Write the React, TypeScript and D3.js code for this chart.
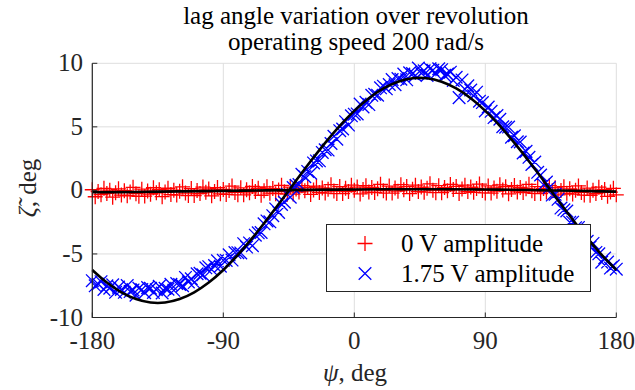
import React from "react";
import * as d3 from "d3";

// ---- data ----
const psiStep = 2;
const psiValues: number[] = d3.range(-180, 181, psiStep);

const redValues: number[] = [
  0.05, -0.5, -0.09, -0.34, 0.16, -0.24, 0.02, -0.53, -0.18, 0.12,
  -0.37, -0.02, -0.42, -0.12, 0.24, -0.26, -0.46, 0.1, -0.45, -0.05,
  -0.3, 0.21, -0.19, 0.06, -0.49, -0.13, 0.17, -0.33, 0.02, -0.37,
  -0.07, 0.28, -0.21, -0.41, 0.14, -0.4, 0.0, -0.25, 0.26, -0.14,
  0.11, -0.43, -0.08, 0.22, -0.27, 0.08, -0.32, -0.01, 0.34, -0.16,
  -0.35, 0.2, -0.35, 0.06, -0.19, 0.31, -0.08, 0.17, -0.38, -0.02,
  0.28, -0.22, 0.14, -0.26, 0.04, 0.4, -0.1, -0.3, 0.26, -0.29,
  0.11, -0.13, 0.37, -0.03, 0.23, -0.32, 0.03, 0.33, -0.16, 0.19,
  -0.21, 0.09, 0.45, -0.05, -0.25, 0.3, -0.25, 0.16, -0.09, 0.41,
  0.01, 0.26, -0.28, 0.07, 0.37, -0.13, 0.23, -0.17, 0.13, 0.48,
  -0.02, -0.21, 0.34, -0.21, 0.19, -0.06, 0.45, 0.05, 0.3, -0.25,
  0.1, 0.41, -0.09, 0.26, -0.14, 0.16, 0.52, 0.02, -0.18, 0.37,
  -0.18, 0.22, -0.03, 0.47, 0.07, 0.31, -0.24, 0.11, 0.41, -0.09,
  0.26, -0.15, 0.15, 0.5, 0.0, -0.2, 0.35, -0.21, 0.19, -0.06,
  0.44, 0.04, 0.29, -0.27, 0.08, 0.38, -0.12, 0.23, -0.17, 0.13,
  0.48, -0.03, -0.24, 0.3, -0.25, 0.14, -0.12, 0.37, -0.03, 0.21,
  -0.35, -0.01, 0.29, -0.22, 0.12, -0.29, 0.01, 0.35, -0.16, -0.37,
  0.18, -0.38, 0.01, -0.25, 0.25, -0.16, 0.08, -0.47, -0.13, 0.16,
  -0.35,
];

const blueValues: number[] = [
  -7.1, -7.51, -7.37, -7.18, -7.79, -7.5, -7.69, -7.43, -8.02, -7.61,
  -7.8, -8.02, -7.49, -7.96, -7.83, -8.25, -7.7, -7.8, -8.05, -7.65,
  -7.7, -8.03, -7.81, -7.54, -8.07, -7.7, -7.77, -7.39, -7.86, -7.33,
  -7.4, -7.5, -6.85, -7.2, -6.95, -7.25, -6.56, -6.52, -6.63, -6.09,
  -6.0, -6.23, -5.91, -5.54, -5.97, -5.5, -5.51, -5.07, -5.48, -4.89,
  -4.9, -4.92, -4.19, -4.46, -4.13, -4.35, -3.52, -3.34, -3.31, -2.63,
  -2.4, -2.47, -1.99, -1.46, -1.73, -1.1, -0.93, -0.31, -0.54, 0.23,
  0.4, 0.46, 1.27, 1.08, 1.49, 1.35, 2.16, 2.32, 2.33, 2.99,
  3.2, 3.17, 3.69, 4.26, 4.03, 4.7, 4.83, 5.41, 5.14, 5.87,
  6.0, 6.02, 6.79, 6.56, 6.93, 6.75, 7.48, 7.56, 7.49, 8.07,
  8.2, 7.99, 8.33, 8.72, 8.31, 8.8, 8.75, 9.15, 8.7, 9.25,
  9.2, 9.04, 9.63, 9.22, 9.41, 9.05, 9.58, 9.46, 9.19, 9.57,
  9.5, 9.05, 9.15, 9.3, 8.65, 8.9, 7.3, 8.69, 7.96, 8.23,
  7.9, 7.44, 7.73, 7.02, 6.91, 6.25, 6.56, 6.22, 5.73, 5.89,
  5.6, 5.01, 4.97, 4.98, 4.19, 4.3, 3.83, 3.81, 2.94, 3.07,
  2.6, 2.04, 2.23, 1.42, 1.21, 0.45, 0.66, 0.22, -0.37, -0.31,
  -0.7, -1.39, -1.53, -1.62, -2.51, -2.5, -2.93, -2.91, -3.74, -3.57,
  -4.0, -4.46, -4.17, -4.88, -4.99, -5.65, -5.32, -5.64, -6.11, -5.93,
  -6.2,
];

// fitted curves
const blueFitPsi: number[] = d3.range(-180, 181, 10);
const blueFitValues: number[] = [
  -6.26, -7.25, -8.02, -8.55, -8.82, -8.82, -8.55, -8.02, -7.25, -6.26,
  -5.08, -3.74, -2.29, -0.77, 0.77, 2.29, 3.74, 5.08, 6.26, 7.25,
  8.02, 8.55, 8.82, 8.82, 8.55, 8.02, 7.25, 6.26, 5.08, 3.74,
  2.29, 0.77, -0.77, -2.29, -3.74, -5.08, -6.26,
];
const redFitPsi: number[] = d3.range(-180, 181, 30);
const redFitValues: number[] = [
  -0.15, -0.12, -0.08, -0.04, 0.0, 0.04, 0.07, 0.09, 0.09, 0.07, 0.03, -0.03, -0.1,
];

const xTicks: number[] = [-180, -90, 0, 90, 180];
const yTicks: number[] = [-10, -5, 0, 5, 10];
const titleLines: string[] = ["lag angle variation over revolution", "operating speed 200 rad/s"];
const legendLabels: string[] = ["0 V amplitude", "1.75 V amplitude"];

const W = 635;
const H = 390;
const FONT = '"Liberation Serif", "DejaVu Serif", serif';
const FS = 25;
const txt: React.CSSProperties = { fontFamily: FONT };

export default function App() {
  const x = d3.scaleLinear().domain([-180, 180]).range([92.3, 616.3]);
  const y = d3.scaleLinear().domain([-10, 10]).range([317.5, 63.3]);
  const [x0, x1] = x.range();
  const [yb, yt] = y.range();

  const line = d3
    .line<[number, number]>()
    .x((d) => x(d[0]))
    .y((d) => y(d[1]))
    .curve(d3.curveCatmullRom.alpha(0.5));

  const bluePath = line(blueFitPsi.map((p, i) => [p, blueFitValues[i]]) as [number, number][]) || "";
  const redPath = line(redFitPsi.map((p, i) => [p, redFitValues[i]]) as [number, number][]) || "";

  const plus = (cx: number, cy: number, r: number) =>
    `M${cx - r},${cy}H${cx + r}M${cx},${cy - r}V${cy + r}`;
  const cross = (cx: number, cy: number, r: number) =>
    `M${cx - r},${cy - r}L${cx + r},${cy + r}M${cx - r},${cy + r}L${cx + r},${cy - r}`;

  const redMarks = psiValues.map((p, i) => plus(x(p), y(redValues[i]), 7.5)).join("");
  const blueMarks = psiValues.map((p, i) => cross(x(p), y(blueValues[i]), 6.3)).join("");

  const grid = "#dedede";
  const axis = "#262626";

  return (
    <svg width={W} height={H} style={{ position: "absolute", left: 0, top: 0, background: "#fff" }}>
      <rect x={0} y={0} width={W} height={H} fill="#fff" />
      {/* grid */}
      {xTicks.map((t) => (
        <line key={"gx" + t} x1={x(t)} x2={x(t)} y1={yb} y2={yt} stroke={grid} strokeWidth={1} />
      ))}
      {yTicks.map((t) => (
        <line key={"gy" + t} x1={x0} x2={x1} y1={y(t)} y2={y(t)} stroke={grid} strokeWidth={1} />
      ))}
      {/* data */}
      <path d={redMarks} stroke="#ff0000" strokeWidth={1.3} fill="none" />
      <path d={blueMarks} stroke="#0000ff" strokeWidth={1.3} fill="none" />
      <path d={redPath} stroke="#000" strokeWidth={2.6} fill="none" />
      <path d={bluePath} stroke="#000" strokeWidth={2.6} fill="none" />
      {/* axes */}
      <line x1={x0} x2={x0} y1={yb + 0.5} y2={yt} stroke={axis} strokeWidth={1.2} />
      <line x1={x0} x2={x1} y1={yb} y2={yb} stroke={axis} strokeWidth={1.2} />
      {yTicks.map((t) => (
        <line key={"ty" + t} x1={x0} x2={x0 + 5} y1={y(t)} y2={y(t)} stroke={axis} strokeWidth={1} />
      ))}
      {xTicks.map((t) => (
        <line key={"tx" + t} x1={x(t)} x2={x(t)} y1={yb} y2={yb - 5} stroke={axis} strokeWidth={1} />
      ))}
      {/* tick labels */}
      {xTicks.map((t) => (
        <text key={"lx" + t} x={x(t)} y={349} textAnchor="middle" fontSize={FS} fill={axis} style={txt}>
          {String(t)}
        </text>
      ))}
      {yTicks.map((t) => (
        <text key={"ly" + t} x={83} y={y(t) + 8} textAnchor="end" fontSize={FS} fill={axis} style={txt}>
          {String(t)}
        </text>
      ))}
      {/* title */}
      {titleLines.map((s, i) => (
        <text key={"t" + i} x={356} y={24 + i * 25.5} textAnchor="middle" fontSize={FS} fill="#000" style={txt}>
          {s}
        </text>
      ))}
      {/* axis labels */}
      <text x={355} y={381} textAnchor="middle" fontSize={FS} fill={axis} style={txt}>
        <tspan fontStyle="italic">ψ</tspan>, deg
      </text>
      <text transform="translate(36,188) rotate(-90)" textAnchor="middle" fontSize={FS} fill={axis} style={txt}>
        <tspan fontStyle="italic">{"ζ\u0303"}</tspan>, deg
      </text>
      {/* legend */}
      <rect x={326.5} y={224.5} width={264} height={67} fill="#fff" stroke={axis} strokeWidth={1} />
      <path d={plus(365, 243.5, 7.5)} stroke="#ff0000" strokeWidth={1.3} fill="none" />
      <path d={cross(365, 273.5, 6.3)} stroke="#0000ff" strokeWidth={1.3} fill="none" />
      {legendLabels.map((s, i) => (
        <text key={"lg" + i} x={401} y={251.5 + i * 30} fontSize={FS} fill="#000" style={txt}>
          {s}
        </text>
      ))}
    </svg>
  );
}
